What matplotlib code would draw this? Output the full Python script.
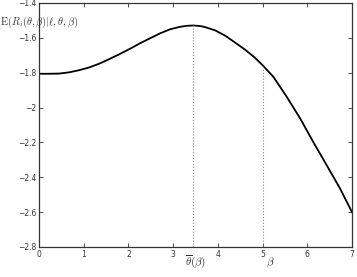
import matplotlib
matplotlib.use('Agg')
import matplotlib.pyplot as plt
from matplotlib.ticker import FuncFormatter

# values
theta = [0.0, 0.22, 0.45, 0.67, 0.89, 1.12, 1.34, 1.57, 1.79, 2.04, 2.26, 2.48,
         2.71, 2.93, 3.15, 3.30, 3.45, 3.60, 3.71, 3.94, 4.16, 4.38, 4.61, 4.83,
         5.0, 5.24, 5.54, 5.84, 6.13, 6.43, 6.73, 7.0]
expected_r = [-1.806, -1.806, -1.805, -1.798, -1.786, -1.770, -1.749, -1.722,
              -1.695, -1.662, -1.631, -1.603, -1.574, -1.551, -1.537, -1.531,
              -1.529, -1.532, -1.538, -1.557, -1.587, -1.626, -1.668, -1.714,
              -1.757, -1.823, -1.938, -2.062, -2.196, -2.329, -2.463, -2.600]

theta_bar = 3.45
beta = 5.0
x_ticks = [0, 1, 2, 3, 4, 5, 6, 7]
y_ticks = [-2.8, -2.6, -2.4, -2.2, -2.0, -1.8, -1.6, -1.4]

plt.rcParams['mathtext.fontset'] = 'cm'

fig = plt.figure(figsize=(3.57, 2.77), dpi=100)
ax = fig.add_axes([39 / 357, 1 - 247 / 277, 313 / 357, 244 / 277])

ax.plot(theta, expected_r, color='black', linewidth=1.3, solid_joinstyle='round')

# dotted markers from the axis up to the curve
i_bar = theta.index(theta_bar)
i_beta = theta.index(beta)
ax.plot([theta_bar, theta_bar], [-2.8, expected_r[i_bar]], linestyle=':', color='#888888', linewidth=0.8)
ax.plot([beta, beta], [-2.8, expected_r[i_beta]], linestyle=':', color='#888888', linewidth=0.8)

ax.set_xlim(0, 7)
ax.set_ylim(-2.8, -1.4)
ax.set_xticks(x_ticks)
ax.set_yticks(y_ticks)
ax.xaxis.set_major_formatter(FuncFormatter(lambda v, p: '%g' % v))
ax.yaxis.set_major_formatter(FuncFormatter(lambda v, p: ('%g' % v).replace('-', '\u2212')))
ax.tick_params(direction='in', length=3, width=0.6, labelsize=5.5, pad=2,
               top=True, right=True, colors='#333333', labelcolor='#333333')
for s in ax.spines.values():
    s.set_linewidth(0.9)
    s.set_color('#333333')

ax.text(theta_bar + 0.05, -2.89, r'$\overline{\theta}(\beta)$', ha='center', va='center', fontsize=8, color='#333333')
ax.text(beta + 0.17, -2.89, r'$\beta$', ha='center', va='center', fontsize=8, color='#333333')
fig.text(0.0, 1 - 22 / 277, r'$\mathrm{E}(R_i(\theta,\beta)|\ell,\theta,\beta)$', ha='left', va='center',
         fontsize=7.5, color='#333333')

fig.savefig('out.png', dpi=100)
